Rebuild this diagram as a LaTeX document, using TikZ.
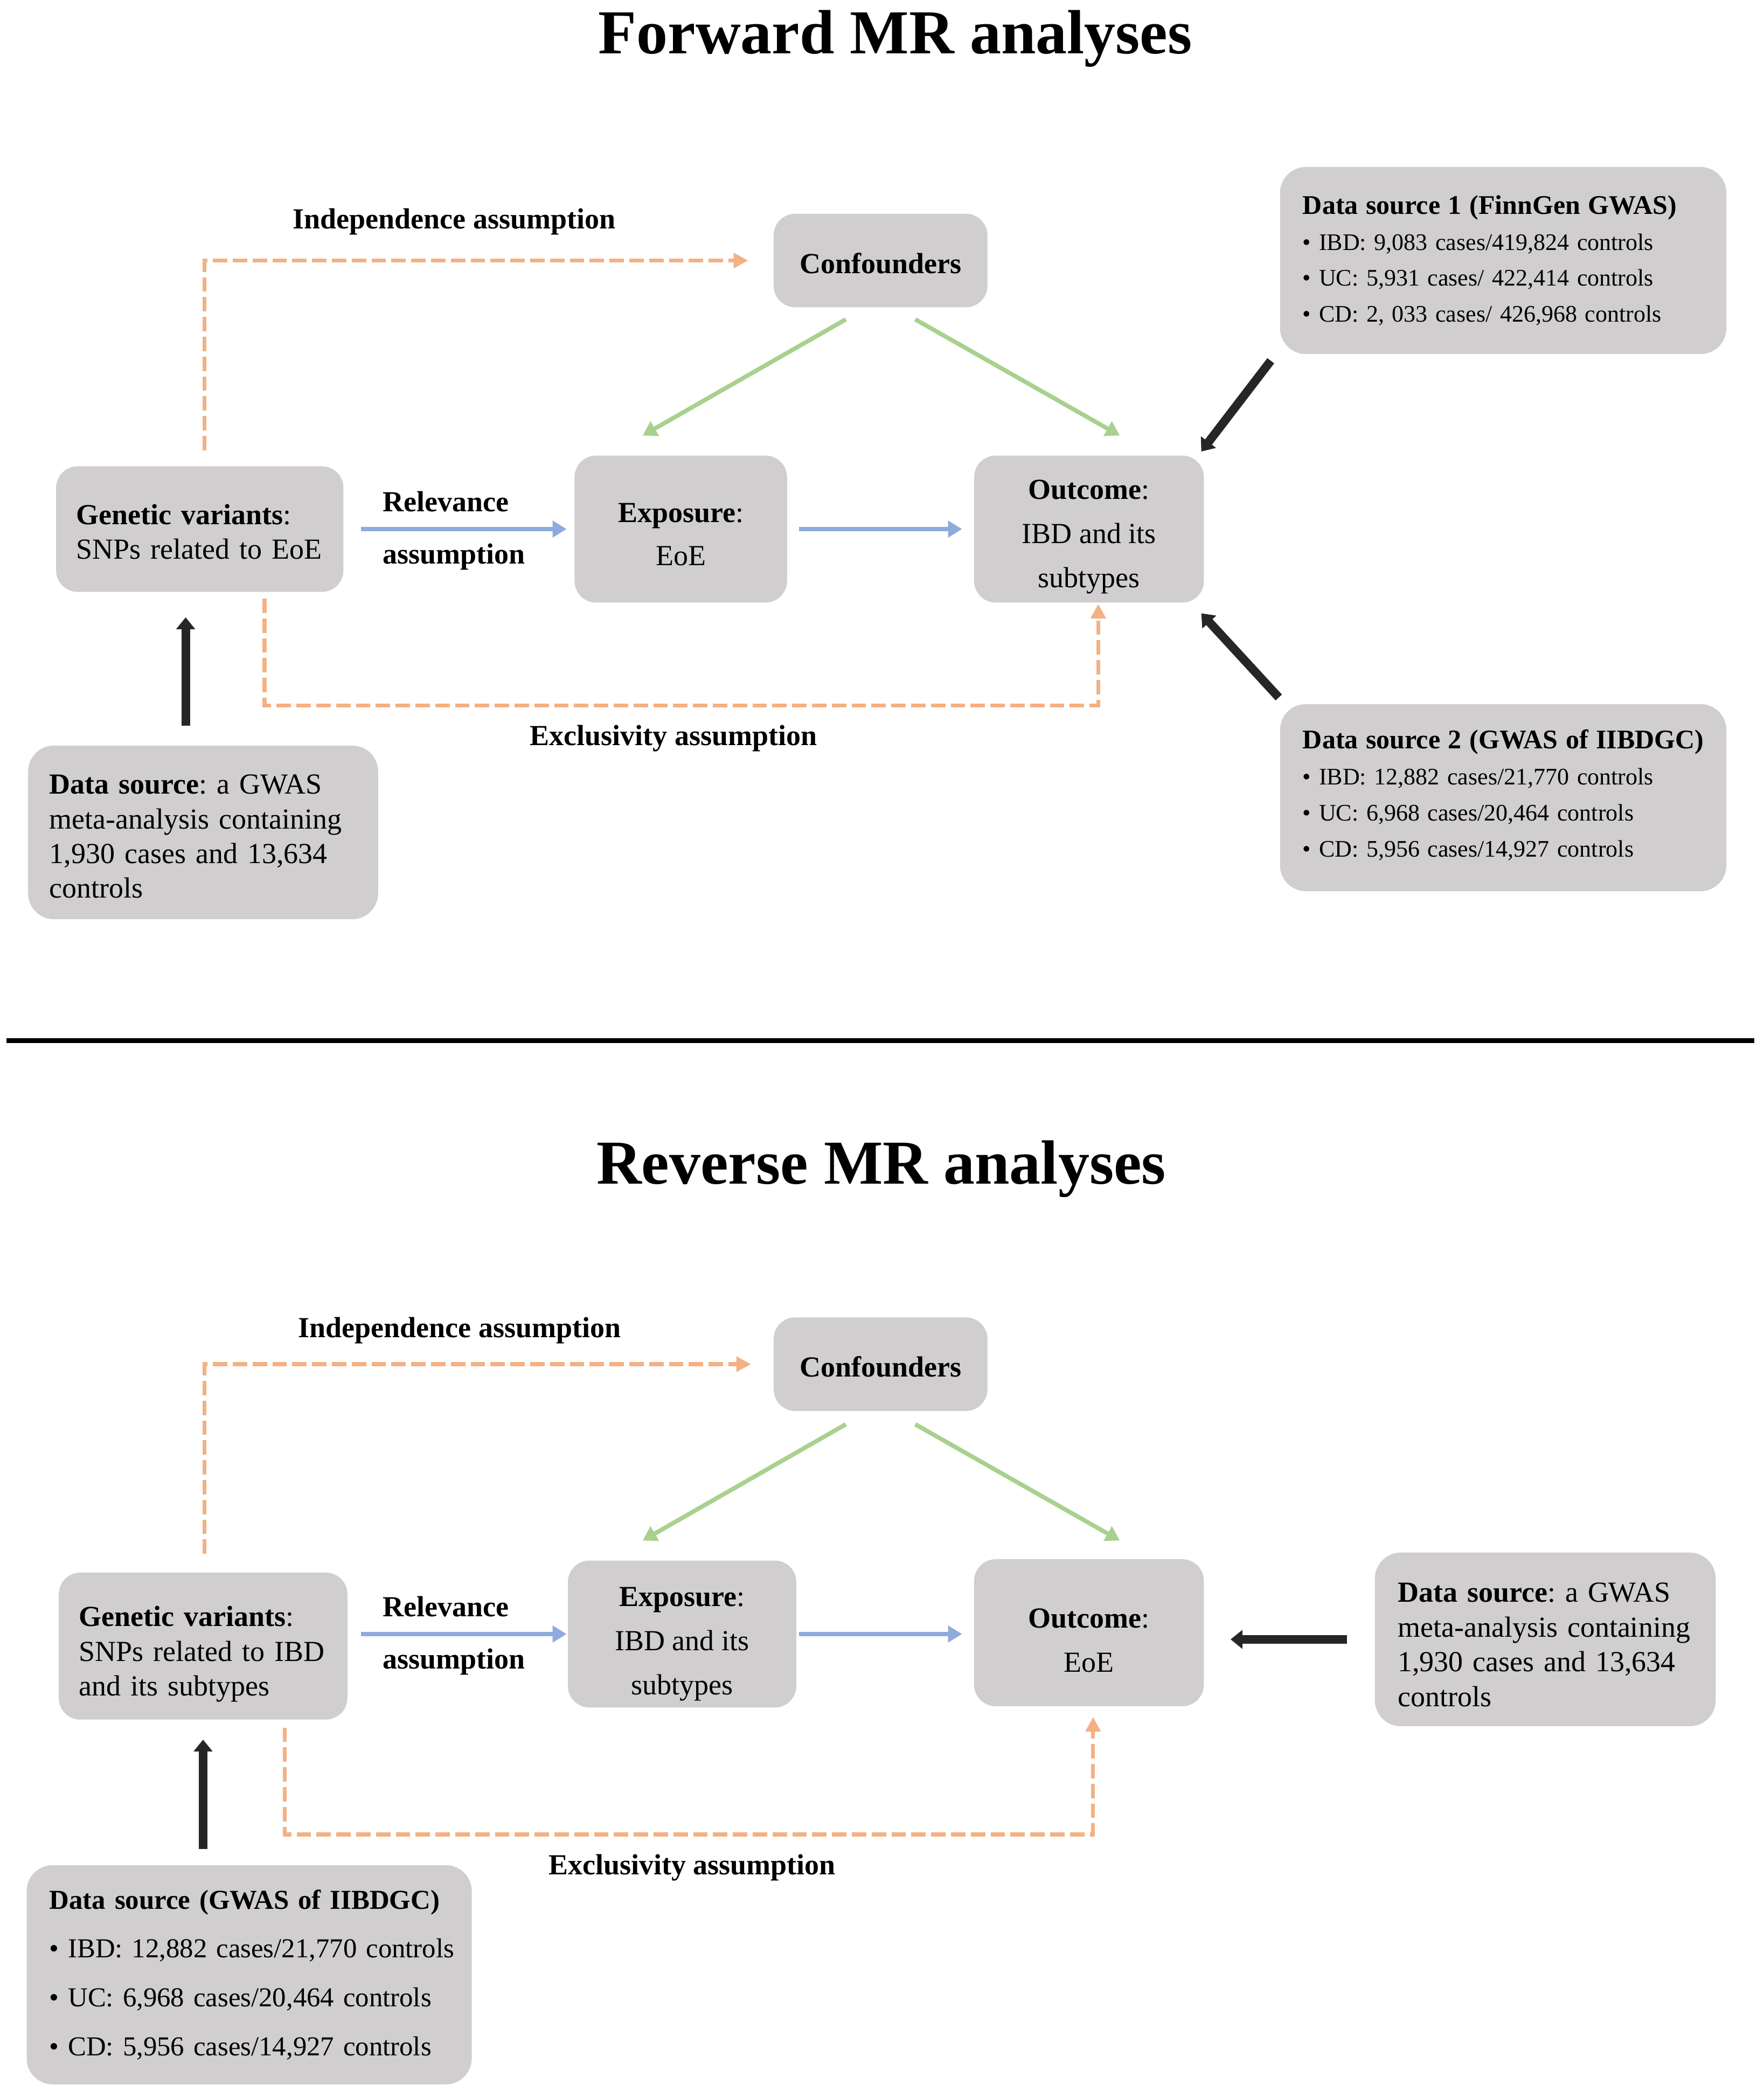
\documentclass[tikz,border=0pt]{standalone}
\usepackage{fontspec}
\setmainfont{Liberation Serif}
\usetikzlibrary{arrows.meta}
\frenchspacing
\definecolor{boxgray}{HTML}{D0CECE}
\definecolor{orng}{HTML}{F4B183}
\definecolor{grn}{HTML}{A9D18E}
\definecolor{blu}{HTML}{8FAADC}
\definecolor{blk}{HTML}{262626}
\tikzset{
  box/.style={fill=boxgray, rounded corners=10pt, inner sep=0pt, outer sep=0pt},
  dsbox/.style={box, rounded corners=12pt},
  sz/.style 2 args={minimum width=#1, minimum height=#2},
  btxt/.style={inner sep=0pt, font=\fontsize{13.5}{16.1}\selectfont},
  lbl/.style={font=\bfseries\fontsize{13.5}{16}\selectfont, inner sep=0pt},
  ttl/.style={font=\bfseries\fontsize{29}{34}\selectfont, inner sep=0pt},
  dasharrow/.style={draw=orng, line width=1.8pt, dash pattern=on 6.7pt off 2.5pt, -{Triangle[length=6.8pt,width=6.8pt]}},
  grnarrow/.style={draw=grn, line width=2pt, -{Triangle[length=6.5pt,width=7.5pt]}},
  bluarrow/.style={draw=blu, line width=2pt, -{Triangle[length=6.5pt,width=7.5pt]}},
  blkarrow/.style={draw=blk, line width=4pt, -{Triangle[length=5.5pt,width=8.5pt]}}
}
\begin{document}
\begin{tikzpicture}[x=0.62pt,y=-0.62pt]
\useasboundingbox (0,0) rectangle (1320,1571);

% ---------------- Forward ----------------
\node[ttl, anchor=base] (t1) at (670,40) {Forward MR analyses};

\node[box, sz={99.2pt}{43.4pt}] (conf1) at (659,195) {};
\node[btxt, font=\bfseries\fontsize{13.5}{16}\selectfont] (conf1t) at ([yshift=-1.2pt]conf1.center) {Confounders};

\node[box, sz={133.3pt}{58.3pt}] (gv1) at (149.5,396) {};
\node[btxt, text width=114.7pt, align=left] (gv1t) at ([yshift=-1.2pt]gv1.center)
  {\mbox{\textbf{Genetic variants}:}\\\mbox{SNPs related to EoE}};

\node[box, sz={98.6pt}{68.2pt}] (exp1) at (509.5,396) {};
\node[btxt, align=center, font=\fontsize{13.5}{19.8}\selectfont] (exp1t) at ([yshift=-2.5pt]exp1.center)
  {\textbf{Exposure}:\\EoE};

\node[box, sz={106.6pt}{68.2pt}] (out1) at (815,396) {};
\node[btxt, align=center, font=\fontsize{13.5}{20.5}\selectfont] (out1t) at ([yshift=-3.7pt]out1.center)
  {\textbf{Outcome}:\\IBD and its\\subtypes};

\node[dsbox, sz={207.1pt}{86.8pt}] (ds1) at (1125,195) {};
\node[btxt, text width=186pt, align=left, font=\fontsize{11}{16.7}\selectfont] (ds1t) at (ds1.center)
  {\mbox{\fontsize{12.5}{16.7}\selectfont\bfseries Data source 1 (FinnGen GWAS)}\\
   \mbox{\textbullet\ IBD: 9,083 cases/419,824 controls}\\
   \mbox{\textbullet\ UC: 5,931 cases/ 422,414 controls}\\
   \mbox{\textbullet\ CD: 2, 033 cases/ 426,968 controls}};

\node[dsbox, sz={207.1pt}{86.8pt}] (ds2) at (1125,597) {};
\node[btxt, text width=186pt, align=left, font=\fontsize{11}{16.7}\selectfont] (ds2t) at ([yshift=1.2pt]ds2.center)
  {\mbox{\fontsize{12.5}{16.7}\selectfont\bfseries Data source 2 (GWAS of IIBDGC)}\\
   \mbox{\textbullet\ IBD: 12,882 cases/21,770 controls}\\
   \mbox{\textbullet\ UC: 6,968 cases/20,464 controls}\\
   \mbox{\textbullet\ CD: 5,956 cases/14,927 controls}};

\node[dsbox, sz={162.4pt}{80.6pt}] (dsl1) at (152,623) {};
\node[btxt, text width=142.6pt, align=left] (dsl1t) at ([yshift=-1.9pt]dsl1.center)
  {\mbox{\textbf{Data source}: a GWAS}\\\mbox{meta-analysis containing}\\\mbox{1,930 cases and 13,634}\\controls};

\node[lbl, anchor=base] (ind1) at (340,171) {Independence assumption};
\node[lbl, anchor=base west] (rel1a) at (286,383) {Relevance};
\node[lbl, anchor=base west] (rel1b) at (286,422) {assumption};
\node[lbl, anchor=base] (exc1) at (504,558) {Exclusivity assumption};

\draw[dasharrow, shorten <=7.4pt, shorten >=11.8pt] ([xshift=2.2pt]gv1.north) |- (conf1.west);
\coordinate (ex1) at (198,528);
\draw[dasharrow, shorten <=3.1pt, shorten >=0.6pt] (gv1.south -| ex1) -- (ex1) -| ([xshift=4.3pt]out1.south);

\draw[grnarrow] ([xshift=-16.1pt,yshift=-5.6pt]conf1.south) -- ([xshift=-17.7pt,yshift=9.3pt]exp1.north);
\draw[grnarrow] ([xshift=16.1pt,yshift=-5.6pt]conf1.south) -- ([xshift=14.3pt,yshift=9.3pt]out1.north);

\draw[bluarrow, shorten <=8.1pt, shorten >=3.7pt] (gv1.east) -- (exp1.west);
\draw[bluarrow, shorten <=5.6pt, shorten >=5.6pt] (exp1.east) -- (out1.west);

\draw[blkarrow] ([xshift=-4.3pt,yshift=-3.1pt]ds1.south west) -- ([xshift=-1.2pt,yshift=1.9pt]out1.north east);
\draw[blkarrow] ([xshift=-0.6pt,yshift=3.1pt]ds2.north west) -- ([xshift=-1.2pt,yshift=-5pt]out1.south east);
\draw[blkarrow, shorten <=9.3pt, shorten >=11.8pt] ([xshift=-8.1pt]dsl1.north) -- ([xshift=-8.1pt]dsl1.north |- gv1.south);

% separator
\draw[line width=2.2pt, black] (5,779) -- (1313,779);

% ---------------- Reverse ----------------
\node[ttl, anchor=base] (t2) at (659.5,886) {Reverse MR analyses};

\node[box, sz={99.2pt}{43.4pt}] (conf2) at (659,1021) {};
\node[btxt, font=\bfseries\fontsize{13.5}{16}\selectfont] (conf2t) at ([yshift=-1.2pt]conf2.center) {Confounders};

\node[box, sz={133.9pt}{68.2pt}] (gv2) at (152,1232) {};
\node[btxt, text width=115.3pt, align=left] (gv2t) at ([yshift=-3.7pt]gv2.center)
  {\mbox{\textbf{Genetic variants}:}\\\mbox{SNPs related to IBD}\\\mbox{and its subtypes}};

\node[box, sz={106pt}{68.2pt}] (exp2) at (510.5,1223) {};
\node[btxt, align=center, font=\fontsize{13.5}{20.5}\selectfont] (exp2t) at ([yshift=-4.6pt]exp2.center)
  {\textbf{Exposure}:\\IBD and its\\subtypes};

\node[box, sz={106.6pt}{68.2pt}] (out2) at (815,1222) {};
\node[btxt, align=center, font=\fontsize{13.5}{20.5}\selectfont] (out2t) at ([yshift=-3.7pt]out2.center)
  {\textbf{Outcome}:\\EoE};

\node[dsbox, sz={158.1pt}{80.6pt}] (dsr2) at (1156.5,1227) {};
\node[btxt, text width=137pt, align=left] (dsr2t) at ([yshift=-2.5pt]dsr2.center)
  {\mbox{\textbf{Data source}: a GWAS}\\\mbox{meta-analysis containing}\\\mbox{1,930 cases and 13,634}\\controls};

\node[dsbox, sz={206.5pt}{101.7pt}] (dsb) at (186.5,1478) {};
\node[btxt, text width=185.4pt, align=left, font=\fontsize{12.7}{22.7}\selectfont] (dsbt) at (dsb.center)
  {\mbox{\bfseries Data source (GWAS of IIBDGC)}\\
   \mbox{\textbullet\ IBD: 12,882 cases/21,770 controls}\\
   \mbox{\textbullet\ UC: 6,968 cases/20,464 controls}\\
   \mbox{\textbullet\ CD: 5,956 cases/14,927 controls}};

\node[lbl, anchor=base] (ind2) at (344,1001) {Independence assumption};
\node[lbl, anchor=base west] (rel2a) at (286,1210) {Relevance};
\node[lbl, anchor=base west] (rel2b) at (286,1249) {assumption};
\node[lbl, anchor=base] (exc2) at (518,1403) {Exclusivity assumption};

\draw[dasharrow, shorten <=8.7pt, shorten >=10.5pt] ([xshift=0.6pt]gv2.north) |- (conf2.west);
\coordinate (ex2) at (213,1373);
\draw[dasharrow, shorten <=3.7pt, shorten >=5pt] (gv2.south -| ex2) -- (ex2) -| ([xshift=1.9pt]out2.south);

\draw[grnarrow] ([xshift=-16.1pt,yshift=-6.2pt]conf2.south) -- ([xshift=-18.3pt,yshift=9.3pt]exp2.north);
\draw[grnarrow] ([xshift=16.1pt,yshift=-6.2pt]conf2.south) -- ([xshift=14.3pt,yshift=8.7pt]out2.north);

\draw[bluarrow, shorten <=6.2pt, shorten >=0.6pt] (gv2.east |- exp2.west) -- (exp2.west);
\draw[bluarrow, shorten <=1.2pt, shorten >=5.6pt] (exp2.east) -- (exp2.east -| out2.west);

\draw[blkarrow, shorten <=13pt, shorten >=12.4pt] (dsr2.west) -- (dsr2.west -| out2.east);
\draw[blkarrow, shorten <=7.4pt, shorten >=9.3pt] ([xshift=-21.4pt]dsb.north) -- ([xshift=-21.4pt]dsb.north |- gv2.south);
\end{tikzpicture}
\end{document}
